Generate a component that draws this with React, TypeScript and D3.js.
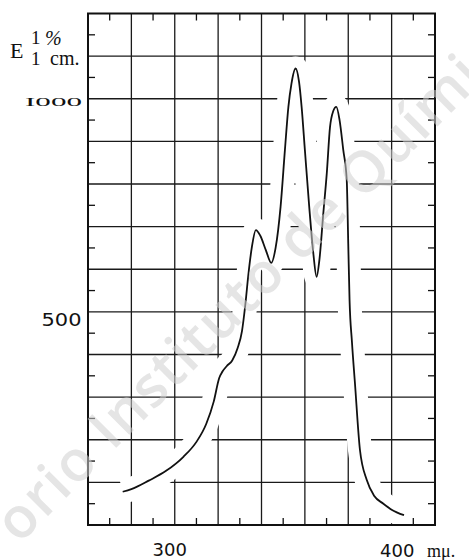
import * as d3 from "d3";

// absorption curve
const wavelengths = [
  276, 280, 288, 296, 304, 310, 314.5, 318, 320.5, 322, 324, 326.5, 329, 331,
  332.5, 334, 335.5, 337.4, 339.5, 342, 344.5, 346.5, 348.8, 350.8, 352.4,
  353.8, 355.7, 357.3, 358.5, 360, 362, 363.9, 365.4, 366.7, 368.5, 370.1,
  371.6, 373, 374.5, 376, 377.7, 379.3, 380, 380.6, 381.7, 383.1, 385.4, 388.5,
  392, 396.2, 400, 405.7,
];
const extinction = [
  78, 84, 104, 127, 160, 195, 237, 290, 345, 360, 373, 386, 415, 455, 515, 590,
  650, 692, 678, 645, 615, 650, 747, 880, 981, 1035, 1071, 1040, 981, 880, 747,
  637, 582, 622, 731, 825, 934, 970, 981, 950, 880, 810, 660, 528, 430, 332,
  176, 106, 68, 50, 36, 23,
];

const xGrid = d3.range(280, 420, 20);
const xMinor = d3.range(270, 420, 20);
const yGrid = d3.range(100, 1200, 100);
const yMinor = d3.range(50, 1200, 100);
const yLabels = ["1000", "500"];
const xLabels = ["300", "400"];

const W = 469;
const H = 560;

const App = () => {
  const x = d3.scaleLinear().domain([260, 420]).range([88, 435]);
  const y = d3.scaleLinear().domain([0, 1200]).range([525, 13.5]);

  const pts: [number, number][] = wavelengths.map((w, i) => [w, extinction[i]]);
  const line = d3
    .line<[number, number]>()
    .x((d) => x(d[0]))
    .y((d) => y(d[1]))
    .curve(d3.curveMonotoneX);
  const path = line(pts) || "";

  const [x0, x1] = x.range();
  const [y0, y1] = y.range();
  const tick = 7;

  return (
    <svg
      width={W}
      height={H}
      style={{ position: "absolute", left: 0, top: 0, background: "#fff" }}
    >
      {/* grid */}
      <g stroke="#1a1a1a" strokeWidth={1.3}>
        {xGrid.map((v) => (
          <line key={"vx" + v} x1={x(v)} x2={x(v)} y1={y1} y2={y0} />
        ))}
        {yGrid.map((v) => (
          <line key={"hy" + v} x1={x0} x2={x1} y1={y(v)} y2={y(v)} />
        ))}
      </g>

      {/* the print leaves the grid out around the curve */}
      <path d={path} fill="none" stroke="#fff" strokeWidth={24} strokeLinejoin="round" />
      <path d={path} fill="none" stroke="#111" strokeWidth={1.8} strokeLinejoin="round" />

      {/* frame + minor ticks */}
      <g stroke="#111" strokeWidth={1.3}>
        {xMinor.map((v) => (
          <g key={"tx" + v}>
            <line x1={x(v)} x2={x(v)} y1={y1} y2={y1 + tick} />
            <line x1={x(v)} x2={x(v)} y1={y0} y2={y0 - tick} />
          </g>
        ))}
        {yMinor.map((v) => (
          <g key={"ty" + v}>
            <line x1={x0} x2={x0 + tick} y1={y(v)} y2={y(v)} />
            <line x1={x1} x2={x1 - tick} y1={y(v)} y2={y(v)} />
          </g>
        ))}
      </g>
      <rect
        x={x0}
        y={y1}
        width={x1 - x0}
        height={y0 - y1}
        fill="none"
        stroke="#111"
        strokeWidth={2}
      />

      {/* axis labels */}
      <g fill="#111" fontFamily="'Liberation Serif', 'DejaVu Serif', serif">
        <text x={10} y={58} fontSize={22}>E</text>
        <text x={31} y={44} fontSize={19}>1</text>
        <text x={45} y={45} fontSize={20} fontStyle="italic">%</text>
        <text x={31} y={65} fontSize={19}>1</text>
        <text x={50} y={65} fontSize={20}>cm.</text>
        <text
          x={25}
          y={105.5}
          fontSize={13}
          textLength={57}
          lengthAdjust="spacingAndGlyphs"
        >
          {yLabels[0].replace("1", "I")}
        </text>
      </g>
      <g fill="#111" fontFamily="'DejaVu Sans', sans-serif">
        <text x={41.5} y={326} fontSize={18} textLength={40} lengthAdjust="spacingAndGlyphs">
          {yLabels[1]}
        </text>
        <text x={x(300) - 5} y={556} fontSize={18} textAnchor="middle">
          {xLabels[0]}
        </text>
        <text x={380} y={557} fontSize={18}>
          {xLabels[1]}
        </text>
      </g>
      <text
        x={427}
        y={557}
        fontSize={18}
        fill="#111"
        fontFamily="'Liberation Serif', 'DejaVu Serif', serif"
      >
        mμ.
      </text>

      {/* scan watermark */}
      <text
        transform="translate(19,545) rotate(-45)"
        fill="#cfcfcf"
        fillOpacity={0.55}
        fontFamily="'Open Sans', 'Noto Sans', sans-serif"
        fontWeight={600}
        fontSize={57}
        letterSpacing={1.5}
      >
        orio Instituto de Química
      </text>
    </svg>
  );
};

export default App;
